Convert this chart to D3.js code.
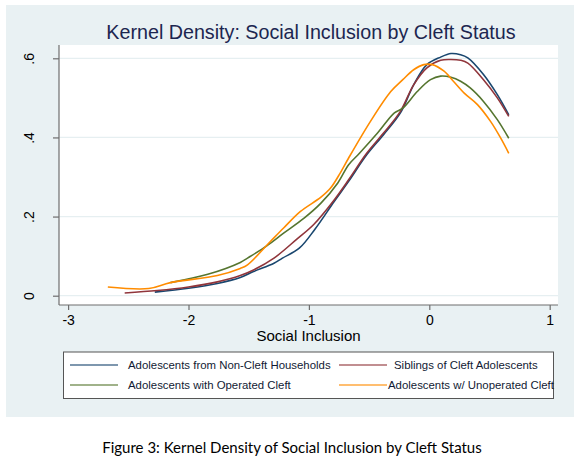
<!DOCTYPE html>
<html>
<head>
<meta charset="utf-8">
<script src="https://cdn.jsdelivr.net/npm/d3@7"></script>
<style>
  body { margin: 0; background: #fff; }
  svg { display: block; }
</style>
</head>
<body>
<svg id="chart"></svg>
<script>
// kernel density estimates: [social inclusion, density]
const nonCleft = [[-2.28, .009], [-2.0, .019], [-1.76, .031], [-1.57, .046], [-1.46, .061],
    [-1.29, .082], [-1.22, .095], [-1.08, .12], [-0.95, .168], [-0.79, .238], [-0.67, .289],
    [-0.52, .356], [-0.38, .407], [-0.24, .462], [-0.13, .533], [-0.02, .584], [0.094, .603],
    [0.18, .612], [0.26, .609], [0.32, .601], [0.45, .559], [0.565, .508], [0.66, .457]];
const siblings = [[-2.53, .007], [-2.26, .013], [-2.0, .022], [-1.76, .035], [-1.57, .051],
    [-1.46, .065], [-1.29, .095], [-1.10, .143], [-0.96, .18], [-0.79, .242], [-0.67, .293],
    [-0.52, .36], [-0.38, .411], [-0.24, .466], [-0.13, .533], [-0.02, .576], [0.094, .595],
    [0.18, .597], [0.26, .595], [0.32, .588], [0.45, .546], [0.565, .50], [0.66, .453]];
const operated = [[-2.15, .033], [-1.84, .054], [-1.57, .084], [-1.51, .095], [-1.35, .126],
    [-1.21, .158], [-1.04, .196], [-0.90, .234], [-0.76, .285], [-0.67, .331], [-0.58, .36],
    [-0.43, .411], [-0.29, .462], [-0.22, .474], [-0.10, .516], [0.01, .546], [0.094, .555],
    [0.18, .552], [0.26, .542], [0.34, .525], [0.45, .491], [0.565, .445], [0.66, .398]];
const unoperated = [[-2.67, .022], [-2.33, .018], [-2.15, .033], [-1.76, .051], [-1.57, .069],
    [-1.51, .078], [-1.32, .137], [-1.21, .171], [-1.07, .213], [-0.90, .249], [-0.82, .272],
    [-0.74, .31], [-0.67, .348], [-0.49, .44], [-0.32, .516], [-0.22, .546], [-0.13, .571],
    [-0.045, .584], [0.025, .584], [0.12, .568], [0.20, .542], [0.29, .512], [0.40, .483],
    [0.51, .44], [0.59, .40], [0.66, .36]];

const seriesNames = ["Adolescents from Non-Cleft Households", "Siblings of Cleft Adolescents",
    "Adolescents with Operated Cleft", "Adolescents w/ Unoperated Cleft"];
const xTicks = [-3, -2, -1, 0, 1];
const yTicks = [0, .2, .4, .6];
const yTickLabels = ["0", ".2", ".4", ".6"];

const COLORS = ["#1a476f", "#90353b", "#55752f", "#ff8c00"];
const series = [nonCleft, siblings, operated, unoperated];

const W = 580, H = 462;
const PANEL_BG = "#e9f1f3";
const GRID = "#e6eff1";
const AXIS = "#6e6e6e";
const FONT = "'Liberation Sans', Arial, sans-serif";

const svg = d3.select("#chart").attr("width", W).attr("height", H);

// background panel (graph region)
svg.append("rect")
    .attr("x", 6).attr("y", 5)
    .attr("width", 568).attr("height", 412)
    .attr("fill", PANEL_BG);

// plot region
const plot = { left: 59, right: 558, top: 45, bottom: 305 };
svg.append("rect")
    .attr("x", plot.left).attr("y", plot.top)
    .attr("width", plot.right - plot.left).attr("height", plot.bottom - plot.top)
    .attr("fill", "#fff");

const x = d3.scaleLinear().domain([-3, 1]).range([429.3 - 3 * 120.4, 429.3 + 120.4]);
const y = d3.scaleLinear().domain([0, .6]).range([295.7, 58.3]);

// gridlines
svg.append("g")
    .selectAll("line")
    .data(yTicks)
    .join("line")
    .attr("x1", plot.left).attr("x2", plot.right)
    .attr("y1", d => y(d)).attr("y2", d => y(d))
    .attr("stroke", GRID)
    .attr("stroke-width", 1.3);

// title
svg.append("text")
    .attr("x", 311).attr("y", 39)
    .attr("text-anchor", "middle")
    .style("font-family", FONT)
    .style("font-size", "19.7px")
    .style("fill", "#1c2650")
    .text("Kernel Density: Social Inclusion by Cleft Status");

// x axis
const xAxis = svg.append("g")
    .attr("transform", `translate(0,${plot.bottom})`)
    .call(d3.axisBottom(x).tickValues(xTicks).tickSize(5).tickPadding(5).tickFormat(d3.format("d")));
xAxis.select(".domain").remove();
xAxis.append("line")
    .attr("x1", plot.left).attr("x2", plot.right)
    .attr("stroke", AXIS).attr("stroke-width", 1.2);
xAxis.selectAll(".tick line").attr("stroke", AXIS).attr("stroke-width", 1.2);
xAxis.selectAll(".tick text")
    .style("font-family", FONT)
    .style("font-size", "14px")
    .style("fill", "#000")
    .text(d => d < 0 ? "-" + Math.abs(d) : d);

svg.append("text")
    .attr("x", 308.5).attr("y", 341)
    .attr("text-anchor", "middle")
    .style("font-family", FONT)
    .style("font-size", "15px")
    .style("fill", "#000")
    .text("Social Inclusion");

// y axis
const yAxis = svg.append("g")
    .attr("transform", `translate(${plot.left},0)`)
    .call(d3.axisLeft(y).tickValues(yTicks).tickSize(6).tickFormat((d, i) => yTickLabels[i]));
yAxis.select(".domain").remove();
yAxis.append("line")
    .attr("y1", plot.top).attr("y2", plot.bottom)
    .attr("stroke", AXIS).attr("stroke-width", 1.2);
yAxis.selectAll(".tick line").attr("stroke", AXIS).attr("stroke-width", 1.2);
yAxis.selectAll(".tick text")
    .attr("x", null).attr("dy", null)
    .attr("text-anchor", "middle")
    .attr("transform", "translate(-25,0) rotate(-90)")
    .style("font-family", FONT)
    .style("font-size", "14px")
    .style("fill", "#000");

// density curves
const line = d3.line()
    .x(d => x(d[0]))
    .y(d => y(d[1]))
    .curve(d3.curveCatmullRom.alpha(0.5));

svg.append("g")
    .selectAll("path")
    .data(series)
    .join("path")
    .attr("d", line)
    .attr("fill", "none")
    .attr("stroke", (d, i) => COLORS[i])
    .attr("stroke-width", 1.6);

// legend
const legend = svg.append("g");
legend.append("rect")
    .attr("x", 63.5).attr("y", 352)
    .attr("width", 490).attr("height", 46.5)
    .attr("fill", "#fff")
    .attr("stroke", "#555")
    .attr("stroke-width", 1);

const keyPos = [
    { lx: 70, tx: 128, y: 365 },
    { lx: 339, tx: 394, y: 365 },
    { lx: 70, tx: 128, y: 385 },
    { lx: 339, tx: 388, y: 385 }
];
seriesNames.forEach((name, i) => {
    const p = keyPos[i];
    legend.append("line")
        .attr("x1", p.lx).attr("x2", p.lx + 48)
        .attr("y1", p.y).attr("y2", p.y)
        .attr("stroke", COLORS[i])
        .attr("stroke-opacity", 0.75)
        .attr("stroke-width", 1.5);
    legend.append("text")
        .attr("x", p.tx).attr("y", p.y + 4.3)
        .style("font-family", FONT)
        .style("font-size", "11.4px")
        .style("fill", "#111a33")
        .text(name);
});

// figure caption below the graph
svg.append("text")
    .attr("x", 292).attr("y", 453)
    .attr("text-anchor", "middle")
    .style("font-family", "Lato, 'Open Sans', sans-serif")
    .style("font-size", "15px")
    .style("fill", "#000")
    .text("Figure 3: Kernel Density of Social Inclusion by Cleft Status");
</script>
</body>
</html>
